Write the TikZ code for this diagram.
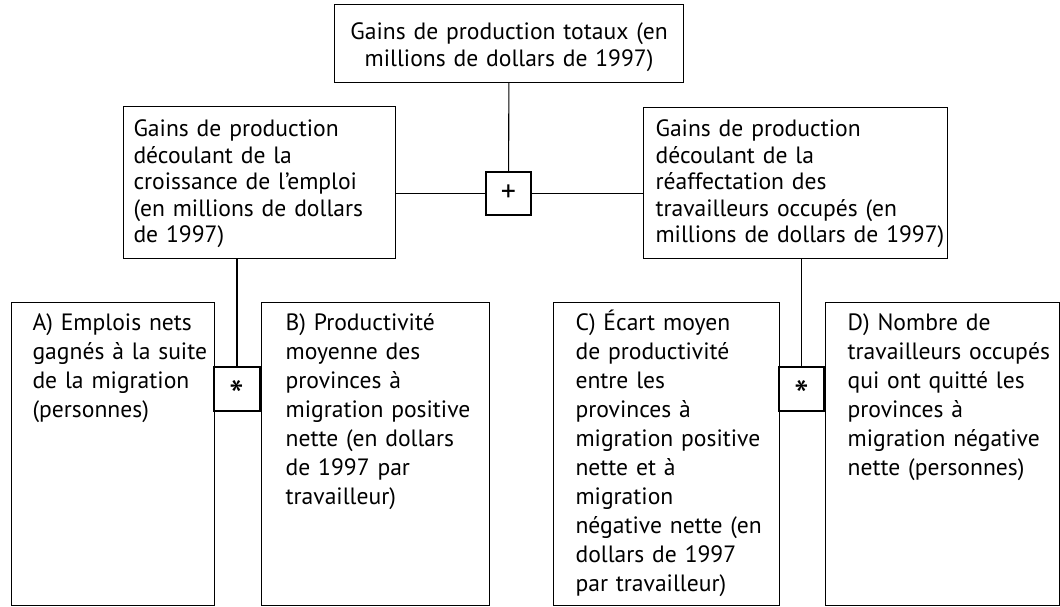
\documentclass[tikz,border=0pt]{standalone}
\usepackage{fontspec}
\setmainfont{PT Sans}
\usetikzlibrary{positioning}

\begin{document}
\begin{tikzpicture}[x=1pt, y=-1pt, line width=1.1pt,
  box/.style={draw, rectangle, inner sep=0pt, align=left, anchor=north west,
    font=\fontsize{23.6}{26.5}\selectfont},
  tall/.style={box, font=\fontsize{23.6}{29}\selectfont, text height=28pt, text depth=275pt},
  indent/.style={execute at begin node={\leftskip=#1\rightskip=-12pt plus 1fil\relax}},
  op/.style={draw, rectangle, line width=1.7pt, inner sep=0pt, font=\fontsize{30}{30}\selectfont},
  times/.style={op, text height=0pt, text depth=0pt, minimum height=44pt, font=\fontsize{42}{42}\selectfont}]
 \useasboundingbox (0,0) rectangle (1060,606);
 \node[box, align=center, text width=349pt, text height=35pt, text depth=43pt] (total) at (334,4)
  {Gains de production totaux (en\\millions de dollars de 1997)};
 \node[box, indent=10pt, text width=272pt, text height=30pt, text depth=122pt] (emploi) at (123,106)
  {Gains de production\\découlant de la\\croissance de l’emploi\\(en millions de dollars\\de 1997)};
 \node[box, indent=12pt, text width=304pt, text height=29pt, text depth=122pt] (realloc) at (643,107)
  {Gains de production\\découlant de la\\réaffectation des\\travailleurs occupés (en\\millions de dollars de 1997)};
 \node[op, minimum width=45pt, minimum height=43pt] (plus) at (508.5,193.5) {+};

 \node[tall, indent=21pt, text width=203pt] (netjobs) at (11,302)
  {A) Emplois nets\\gagnés à la suite\\de la migration\\(personnes)};
 \node[tall, indent=24pt, text width=228pt, right=46pt of netjobs] (avgprod)
  {B) Productivité\\moyenne des\\provinces à\\migration positive\\nette (en dollars\\de 1997 par\\travailleur)};
 \node[tall, indent=22pt, text width=226pt] (gap) at (553,302)
  {C) Écart moyen\\de productivité\\entre les\\provinces à\\migration positive\\nette et à\\migration\\négative nette (en\\dollars de 1997\\par travailleur)};
 \node[tall, indent=22pt, text width=234pt, right=45pt of gap] (leavers)
  {D) Nombre de\\travailleurs occupés\\qui ont quitté les\\provinces à\\migration négative\\nette (personnes)};
 \node[times, minimum width=46pt] (timesA) at (237,389) {\raisebox{-0.52em}{*}};
 \node[times, minimum width=45pt] (timesB) at (801.5,389) {\raisebox{-0.52em}{*}};

 \draw (total) -- (plus);
 \draw (plus) -- (plus -| emploi.east);
 \draw (plus) -- (plus -| realloc.west);
 \draw (timesA) -- (timesA |- emploi.south);
 \draw (timesB) -- (timesB |- realloc.south);
\end{tikzpicture}
\end{document}
